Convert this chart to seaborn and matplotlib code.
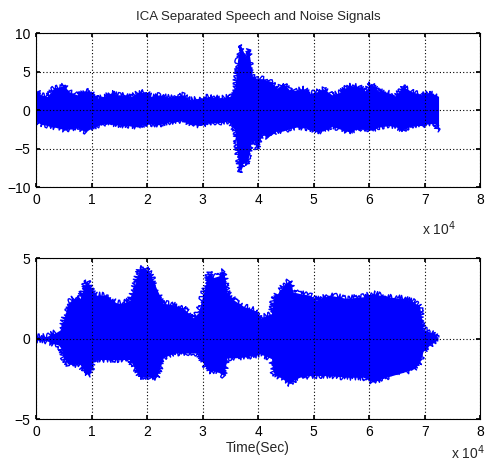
import numpy as np
import pandas as pd
import seaborn as sns
import matplotlib
matplotlib.use("Agg")
import matplotlib.pyplot as plt


# envelope of the separated noise signal (x in units of 10^4 samples)
noise_t = [0.0, 0.02, 0.08, 0.20, 0.32, 0.41, 0.52, 0.56, 0.65, 0.74, 0.89, 0.98,
           1.11, 1.23, 1.35, 1.47, 1.59, 1.71, 1.83, 1.98, 2.07, 2.22, 2.37, 2.49,
           2.64, 2.77, 2.95, 3.13, 3.31, 3.49, 3.58, 3.63, 3.68, 3.74, 3.79, 3.83,
           3.89, 3.98, 4.07, 4.16, 4.24, 4.33, 4.45, 4.57, 4.69, 4.82, 4.94, 5.06,
           5.17, 5.33, 5.45, 5.63, 5.81, 5.93, 6.03, 6.17, 6.35, 6.47, 6.60, 6.77,
           6.95, 7.07, 7.19, 7.25]
noise_hi = [1.8, 2.55, 2.0, 1.8, 2.9, 3.0, 3.3, 2.5, 2.25, 2.0, 2.55, 2.4,
            1.6, 1.8, 2.25, 2.0, 2.0, 1.8, 2.25, 2.4, 1.8, 2.0, 1.7, 1.8,
            2.0, 1.35, 1.55, 1.8, 1.55, 1.8, 3.0, 6.6, 8.5, 7.5, 6.8, 7.9,
            4.5, 4.1, 4.1, 3.9, 3.7, 2.8, 3.5, 2.6, 2.6, 2.8, 2.2, 2.4,
            2.8, 2.0, 2.25, 3.2, 3.1, 2.5, 3.5, 2.5, 2.25, 1.8, 3.1, 2.4,
            2.0, 2.25, 2.0, 1.8]
noise_lo = [-1.2, -1.55, -1.8, -2.0, -2.2, -2.3, -2.6, -2.5, -2.4, -2.3, -2.8, -2.4,
            -2.0, -1.75, -1.75, -1.9, -2.0, -2.0, -2.2, -1.75, -1.8, -1.9, -1.55, -1.55,
            -1.3, -1.8, -2.0, -1.6, -1.6, -1.4, -2.7, -6.0, -8.1, -6.5, -7.1, -6.0,
            -3.5, -5.0, -3.1, -3.5, -3.2, -2.7, -2.7, -2.4, -2.2, -2.3, -2.4, -2.8,
            -2.7, -2.1, -2.4, -2.8, -2.4, -2.5, -2.6, -2.2, -2.0, -2.1, -2.6, -2.0,
            -2.0, -1.75, -1.75, -2.8]

# envelope of the separated speech signal
speech_t = [0.0, 0.1, 0.2, 0.3, 0.4, 0.45, 0.49, 0.58, 0.67, 0.79, 0.88, 0.91,
            0.97, 1.03, 1.09, 1.27, 1.33, 1.45, 1.57, 1.69, 1.78, 1.87, 1.96, 2.05,
            2.17, 2.29, 2.47, 2.65, 2.83, 2.92, 3.02, 3.11, 3.20, 3.29, 3.38, 3.44,
            3.56, 3.74, 3.98, 4.03, 4.15, 4.24, 4.27, 4.39, 4.48, 4.57, 4.63, 4.75,
            4.93, 5.05, 5.29, 5.59, 5.89, 6.07, 6.31, 6.61, 6.79, 6.91, 6.97, 7.09,
            7.18, 7.24]
speech_hi = [0.1, 0.1, 0.15, 0.3, 0.45, 0.6, 1.1, 2.2, 2.5, 2.5, 3.4, 3.6,
             3.3, 2.9, 2.7, 2.7, 2.5, 2.2, 2.2, 2.4, 3.4, 4.4, 4.4, 4.1,
             3.1, 2.2, 2.1, 1.9, 1.3, 1.6, 2.9, 4.1, 3.8, 3.9, 4.2, 2.9,
             2.4, 2.0, 1.7, 1.25, 1.45, 1.55, 2.4, 3.0, 3.4, 3.6, 2.9, 2.8,
             2.7, 2.4, 2.7, 2.5, 2.6, 2.8, 2.6, 2.5, 2.3, 2.0, 0.6, 0.4,
             0.3, 0.05]
speech_lo = [-0.1, -0.1, -0.15, -0.3, -0.4, -0.6, -1.2, -1.6, -1.6, -1.6, -2.1, -2.2,
             -2.2, -1.4, -1.3, -1.3, -1.3, -1.3, -1.3, -1.3, -1.9, -2.4, -2.4, -2.4,
             -2.4, -1.2, -0.9, -0.9, -0.9, -0.9, -1.6, -2.0, -2.0, -2.1, -2.3, -1.2,
             -1.2, -1.15, -1.0, -0.95, -1.1, -1.25, -2.1, -2.4, -2.6, -2.8, -2.6, -2.4,
             -2.3, -2.3, -2.3, -2.4, -2.4, -2.7, -2.4, -2.1, -1.9, -1.5, -0.8, -0.4,
             -0.2, -0.05]

x_ticks = [0, 1, 2, 3, 4, 5, 6, 7, 8]
noise_yticks = [-10, -5, 0, 5, 10]
speech_yticks = [-5, 0, 5]

sns.set_theme(style="white")
plt.rcParams["font.family"] = ["Liberation Sans", "DejaVu Sans"]

fig = plt.figure(figsize=(4.88, 4.61), dpi=100)
ax1 = fig.add_axes([0.074, 0.594, 0.910, 0.334])
ax2 = fig.add_axes([0.074, 0.091, 0.910, 0.349])

noise_df = pd.DataFrame({"t": noise_t, "hi": noise_hi, "lo": noise_lo})
speech_df = pd.DataFrame({"t": speech_t, "hi": speech_hi, "lo": speech_lo})

# rough edges so the band reads like a dense noisy trace
for ax, df, yt, sk in [(ax1, noise_df, noise_yticks, (2.5, 1.2, 2)),
                       (ax2, speech_df, speech_yticks, (3.0, 1.5, 2))]:
    band = ax.fill_between(df["t"], df["lo"], df["hi"], color="#0000ff", lw=0)
    sns.lineplot(data=df, x="t", y="hi", ax=ax, color="#0000ff", lw=1.0)
    sns.lineplot(data=df, x="t", y="lo", ax=ax, color="#0000ff", lw=1.0)
    for ln in ax.lines:
        ln.set_sketch_params(*sk)
    ax.set_xlim(0, 8)
    ax.set_ylim(yt[0], yt[-1])
    ax.set_xticks(x_ticks)
    ax.set_yticks(yt)
    ax.set_xlabel("")
    ax.set_ylabel("")
    ax.grid(True, color="black", linestyle=(0, (1, 2)), linewidth=0.8)
    ax.tick_params(direction="in", length=3, labelsize=10, colors="black",
                   top=True, right=True, bottom=True, left=True, pad=4)
    for s in ax.spines.values():
        s.set_color("black")
        s.set_linewidth(0.8)
    ax.set_axisbelow(False)

ax1.set_title("ICA Separated Speech and Noise Signals", fontsize=9.5, pad=9.5)
ax2.set_xlabel("Time(Sec)", fontsize=10, labelpad=2)

ax1.text(0.87, -0.27, "x 10$^4$", transform=ax1.transAxes, fontsize=10, va="center")
ax2.text(0.935, -0.212, "x 10$^4$", transform=ax2.transAxes, fontsize=10, va="center")

fig.savefig("out.png", dpi=100, facecolor="white")
